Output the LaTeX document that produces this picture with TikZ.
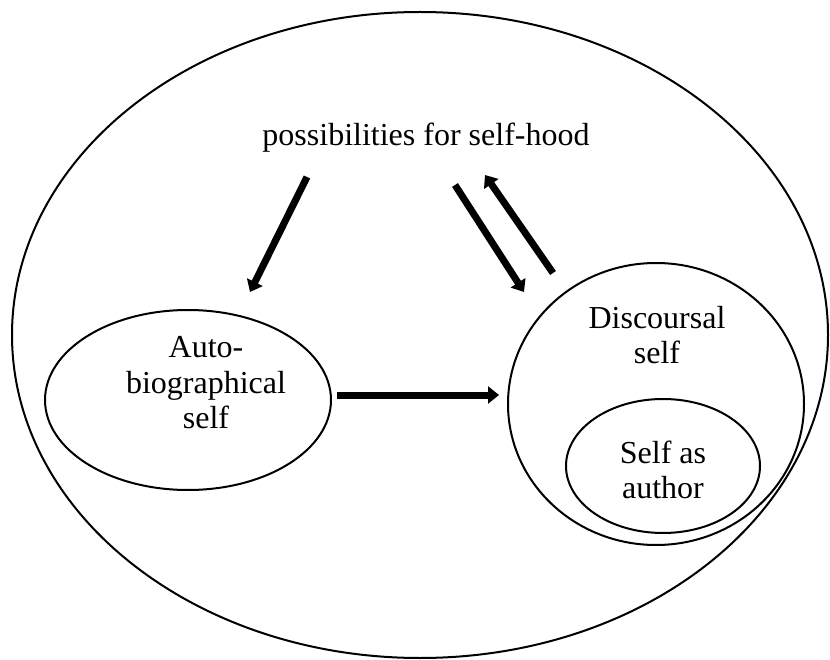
\documentclass[tikz,border=0pt]{standalone}
\usepackage{fontspec}
\setmainfont{Liberation Serif}
\usetikzlibrary{arrows.meta,shapes.geometric}
\tikzset{
  ring/.style={draw=black, line width=2pt},
  lbl/.style={font=\fontsize{32}{35.5}\selectfont, align=center, inner sep=0pt},
  fat/.style={line width=7pt, -{Triangle[length=11pt,width=17pt]}},
}
\begin{document}
\begin{tikzpicture}[x=1pt,y=-1pt]
\useasboundingbox (0,0) rectangle (830,660);
\draw[ring] (420,335) ellipse [x radius=408, y radius=323];
\node[ring, ellipse, minimum width=286pt, minimum height=180pt] (auto) at (188,400) {};
\node[ring, ellipse, minimum width=296pt, minimum height=282pt] (disc) at (656,404) {};
\node[ring, ellipse, minimum width=194pt, minimum height=134pt] (author) at (663,466) {};
\node[lbl] (title) at (426,138) {possibilities for self-hood};
\node[lbl] (autotxt) at (206,383) {Auto-\\biographical\\self};
\node[lbl] (disctxt) at (657,335) {Discoursal\\self};
\node[lbl] (authtxt) at (663,470) {Self as\\author};
\coordinate (a1s) at (307,177);
\coordinate (a1e) at (250,292);
\coordinate (a2s) at (455,185);
\coordinate (a2e) at (524,292);
\coordinate (a3s) at (553,273);
\coordinate (a3e) at (485,175);
\coordinate (a4s) at (337,395);
\coordinate (a4e) at (499,395);
\draw[fat] (a1s) -- (a1e);
\draw[fat] (a2s) -- (a2e);
\draw[fat] (a3s) -- (a3e);
\draw[fat] (a4s) -- (a4e);
\end{tikzpicture}
\end{document}
